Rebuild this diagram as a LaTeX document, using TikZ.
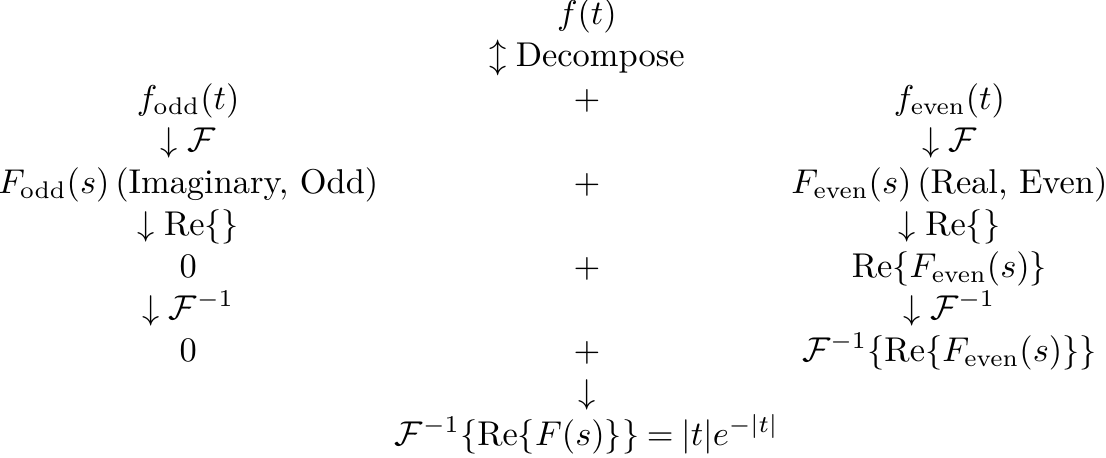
\documentclass[tikz,border=0pt]{standalone}
\usepackage{amsmath}
\begin{document}
\begin{tikzpicture}[x=1pt,y=1pt,
  cell/.style={inner sep=0pt, outer sep=0pt, anchor=base}]
\useasboundingbox (0,0) rectangle (321.5,-132.85);
\def\xl{54.7}
\def\xm{170.6}
\def\xr{276.0}
% baselines: row i at 7.27 + 12.21 i
\node[cell] (top) at (\xm,-7.27) {$f(t)$};
\node[cell] (dec) at (\xm,-19.48) {$\updownarrow \text{Decompose}$};
\node[cell] (fo) at (\xl,-31.69) {$f_{\text{odd}}(t)$};
\node[cell] (p1) at (\xm,-31.69) {$+$};
\node[cell] (fe) at (\xr,-31.69) {$f_{\text{even}}(t)$};
\node[cell] (a1l) at (\xl,-43.90) {$\downarrow \mathcal{F}$};
\node[cell] (a1r) at (\xr,-43.90) {$\downarrow \mathcal{F}$};
\node[cell] (Fo) at (\xl,-56.11) {$F_{\text{odd}}(s)\,(\text{Imaginary, Odd})$};
\node[cell] (p2) at (\xm,-56.11) {$+$};
\node[cell] (Fe) at (\xr,-56.11) {$F_{\text{even}}(s)\,(\text{Real, Even})$};
\node[cell] (a2l) at (\xl,-68.32) {$\downarrow \mathrm{Re}\{\}$};
\node[cell] (a2r) at (\xr,-68.32) {$\downarrow \mathrm{Re}\{\}$};
\node[cell] (z1) at (\xl,-80.53) {$0$};
\node[cell] (p3) at (\xm,-80.53) {$+$};
\node[cell] (Re) at (\xr,-80.53) {$\mathrm{Re}\{F_{\text{even}}(s)\}$};
\node[cell] (a3l) at (\xl,-92.74) {$\downarrow \mathcal{F}^{-1}$};
\node[cell] (a3r) at (\xr,-92.74) {$\downarrow \mathcal{F}^{-1}$};
\node[cell] (z2) at (\xl,-104.95) {$0$};
\node[cell] (p4) at (\xm,-104.95) {$+$};
\node[cell] (iR) at (\xr,-104.95) {$\mathcal{F}^{-1}\{\mathrm{Re}\{F_{\text{even}}(s)\}\}$};
\node[cell] (a4) at (\xm,-117.16) {$\downarrow$};
\node[cell] (res) at (\xm,-129.37) {$\mathcal{F}^{-1}\{\mathrm{Re}\{F(s)\}\} \mathbin{=} |t|e^{-|t|}$};
\end{tikzpicture}
\end{document}
